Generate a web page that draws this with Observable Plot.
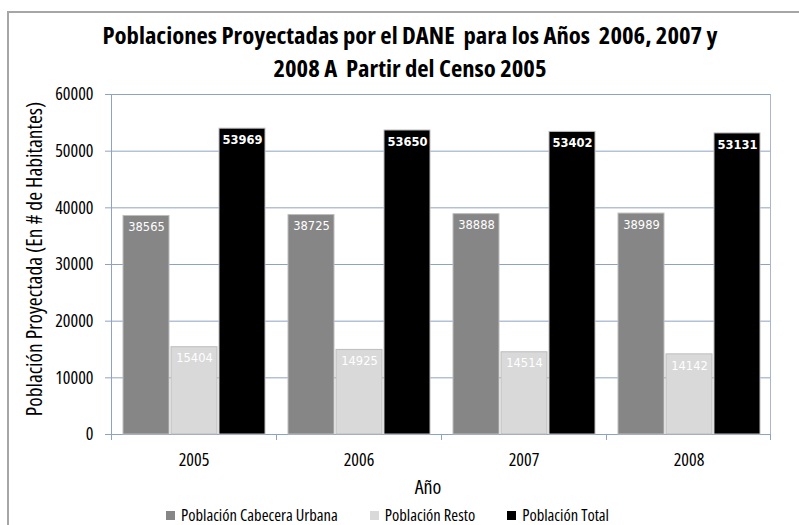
<!DOCTYPE html>
<html><head><meta charset="utf-8">
<script src="https://cdn.jsdelivr.net/npm/d3@7"></script>
<script src="https://cdn.jsdelivr.net/npm/@observablehq/plot@0.6"></script>
<style>
body{margin:0;background:#fff;}
#wrap{position:relative;width:799px;height:525px;overflow:hidden;background:#fff;font-family:"Open Sans",sans-serif;font-stretch:75%;color:#000;}
#border{position:absolute;left:7px;top:11px;width:820px;height:600px;border-left:2px solid #a6a6a6;border-top:2px solid #a6a6a6;}
.title{position:absolute;left:0;width:820px;text-align:center;font-weight:bold;font-size:23.5px;line-height:24px;white-space:nowrap;transform:scaleX(1.05);transform-origin:410px 0;}
#t1{top:23px;}
#t2{top:55.5px;}
#ylab{position:absolute;left:33px;top:259px;transform:translate(-50%,-50%) rotate(-90deg);font-size:21.5px;white-space:nowrap;}
#xlab{position:absolute;left:428px;top:486px;transform:translate(-50%,-50%);font-size:20px;}
#chart{position:absolute;left:0;top:84px;}
#chart svg{font-family:"Open Sans",sans-serif;font-stretch:75%;}
#legend{position:absolute;left:166px;top:506px;display:flex;gap:32px;font-size:16.5px;line-height:18px;}
.item{display:flex;align-items:center;gap:6px;}
.sw{width:9px;height:9px;display:inline-block;}
</style></head>
<body>
<div id="wrap">
  <div id="border"></div>
  <div class="title" id="t1">Poblaciones Proyectadas por el DANE&nbsp; para los Años&nbsp; 2006, 2007 y</div>
  <div class="title" id="t2">2008 A&nbsp; Partir del Censo 2005</div>
  <div id="ylab">Población Proyectada (En # de Habitantes)</div>
  <div id="chart"></div>
  <div id="xlab">Año</div>
  <div id="legend"></div>
</div>
<script>
const years = ["2005", "2006", "2007", "2008"];
const series = ["Población Cabecera Urbana", "Población Resto", "Población Total"];
const urbana = [38565, 38725, 38888, 38989];
const resto = [15404, 14925, 14514, 14142];
const total = [53969, 53650, 53402, 53131];
const colors = ["#868686", "#d9d9d9", "#000000"];
const yTicks = [0, 10000, 20000, 30000, 40000, 50000, 60000];

const values = [urbana, resto, total];
const data = years.flatMap((yr, i) => series.map((s, j) => ({year: yr, series: s, value: values[j][i]})));

const gridColor = "#8ea3c4";

const plot = Plot.plot({
  width: 799,
  height: 416,
  marginTop: 10,
  marginBottom: 66,
  marginLeft: 111,
  marginRight: 28,
  style: {fontSize: "18px", color: "#000", background: "transparent", overflow: "visible"},
  fx: {domain: years, padding: 0, label: null},
  x: {domain: series, paddingInner: 0.052, paddingOuter: 0.227, axis: null},
  y: {domain: [0, 60000], label: null},
  color: {domain: series, range: colors},
  marks: [
    Plot.gridY(yTicks, {stroke: gridColor, strokeOpacity: 1, strokeWidth: 1}),
    Plot.axisY(yTicks, {tickSize: 6, tickPadding: 12, stroke: gridColor, tickFormat: d => String(d), label: null, fontSize: 18}),
    Plot.axisFx({anchor: "bottom", tickSize: 0, tickPadding: 19, label: null, fontSize: 18}),
    Plot.barY(data, {fx: "year", x: "series", y: "value", fill: "series", stroke: "#bdbdbd", strokeWidth: 1}),
    Plot.text(data.filter(d => d.series !== series[2]), {fx: "year", x: "series", y: "value", text: d => String(d.value), fill: "white", lineAnchor: "top", dy: 7, fontFamily: "DejaVu Sans", fontSize: 11.5}),
    Plot.text(data.filter(d => d.series === series[2]), {fx: "year", x: "series", y: "value", text: d => String(d.value), fill: "white", lineAnchor: "top", dy: 7, fontFamily: "DejaVu Sans", fontSize: 11.5, fontWeight: "bold"})
  ]
});
document.getElementById("chart").appendChild(plot);

// bar labels use a normal-width face
d3.select(plot).selectAll('g[aria-label="text"] text').style("font-stretch", "normal");

// axis decorations from the library's scales
const fx = plot.scale("fx");
const ys = plot.scale("y");
const svg = d3.select(plot);
const y0 = ys.apply(0), yTop = ys.apply(60000);
const left = fx.apply(years[0]);
const right = fx.apply(years[years.length - 1]) + fx.bandwidth;
const g = svg.append("g").attr("stroke", gridColor).attr("stroke-width", 1);
g.append("line").attr("x1", left + 0.5).attr("x2", left + 0.5).attr("y1", yTop).attr("y2", y0);
g.append("line").attr("stroke", "#a9b6cc").attr("x1", right - 0.5).attr("x2", right - 0.5).attr("y1", yTop).attr("y2", y0);
years.forEach(yr => {
  const x = fx.apply(yr);
  g.append("line").attr("x1", x + 0.5).attr("x2", x + 0.5).attr("y1", y0).attr("y2", y0 + 6);
});
g.append("line").attr("x1", right - 0.5).attr("x2", right - 0.5).attr("y1", y0).attr("y2", y0 + 6);

// legend
const legend = d3.select("#legend");
series.forEach((s, j) => {
  const it = legend.append("div").attr("class", "item");
  it.append("span").attr("class", "sw").style("background", colors[j]);
  it.append("span").text(s);
});
</script>
</body></html>
